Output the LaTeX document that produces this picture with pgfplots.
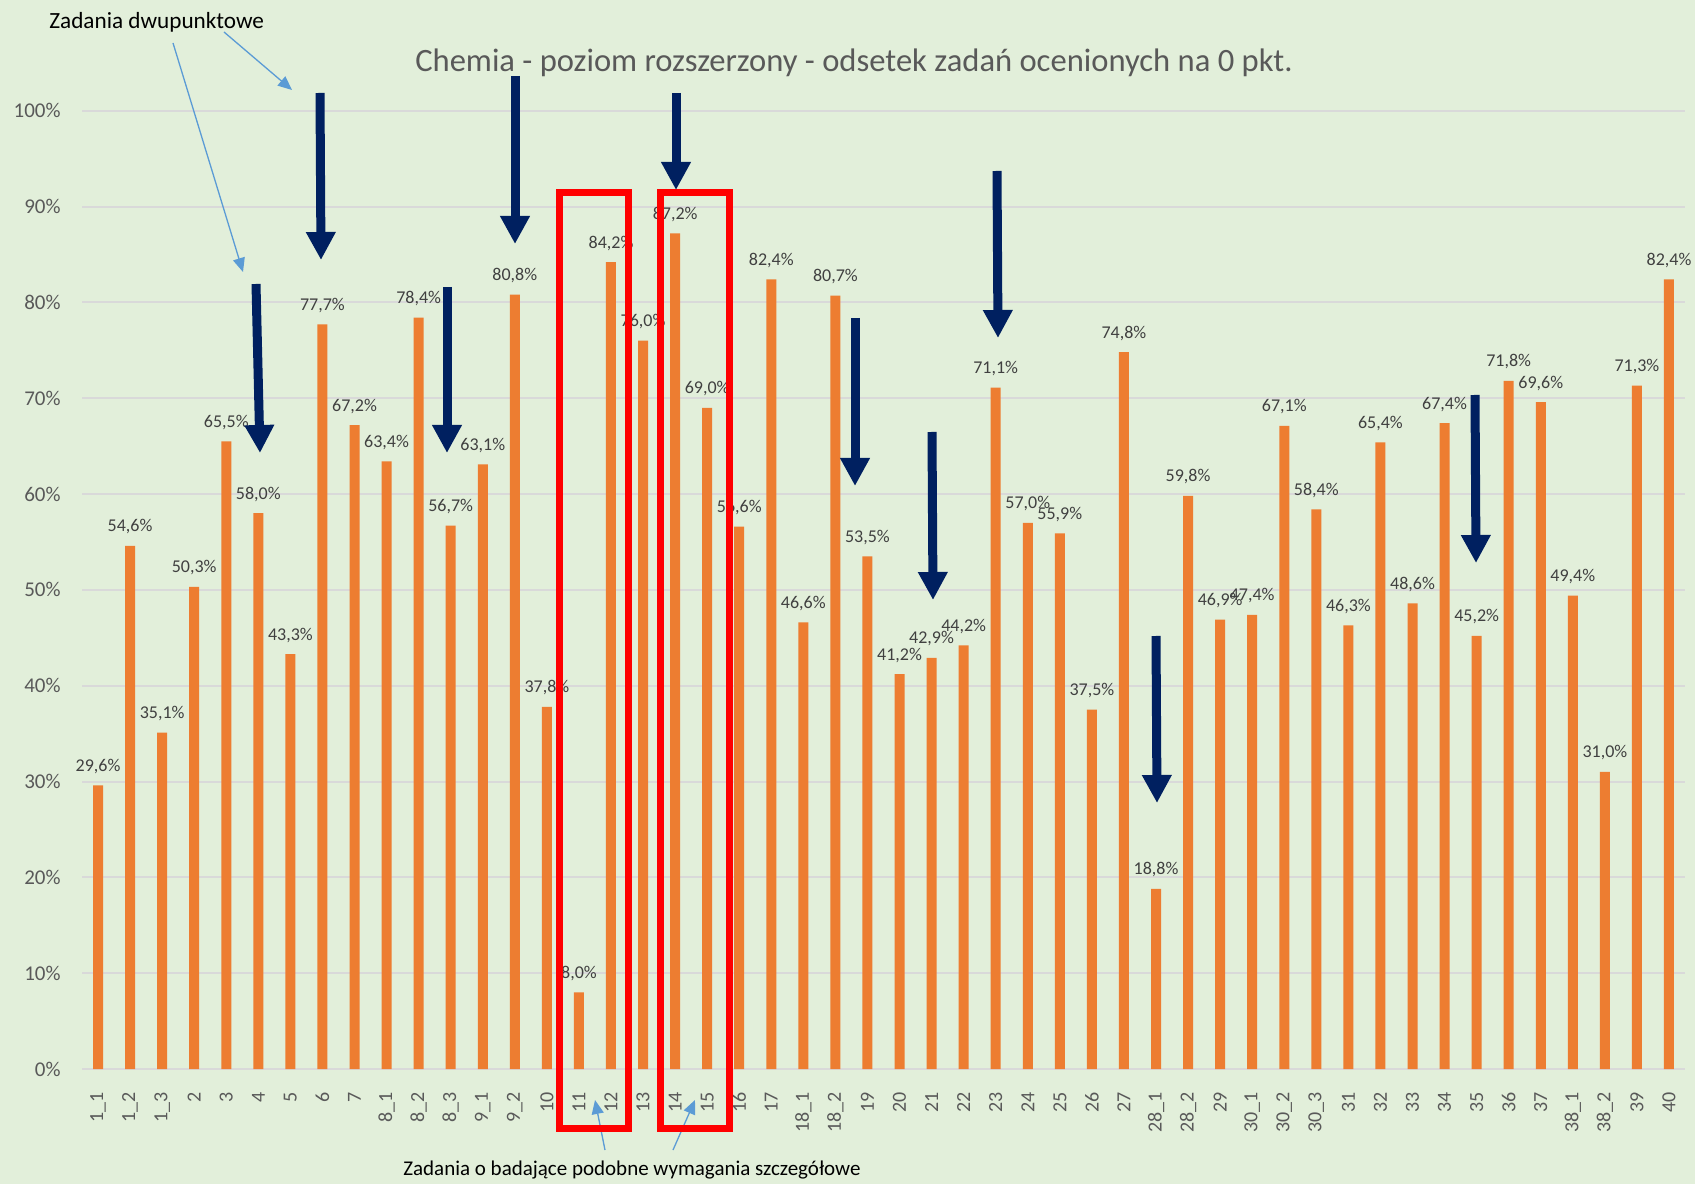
\documentclass[border=0pt]{standalone}
\usepackage{fontspec}
\setmainfont{Carlito}
\usepackage{pgfplots}
\pgfplotsset{compat=1.18}
\usetikzlibrary{arrows.meta}

\definecolor{bg}{HTML}{E2EFDA}
\definecolor{barorange}{HTML}{ED7D31}
\definecolor{gridgray}{HTML}{D9D9D9}
\definecolor{txtgray}{HTML}{595959}
\definecolor{lblgray}{HTML}{404040}
\definecolor{navy}{HTML}{002060}
\definecolor{lightblue}{HTML}{5B9BD5}

\begin{document}
\begin{tikzpicture}
% page = 1695 x 1184 px, 1 px = 0.5pt
\fill[bg] (0,0) rectangle (847.5pt,592pt);
\path[use as bounding box] (0,0) rectangle (847.5pt,592pt);

\begin{axis}[
    at={(41pt,57.5pt)}, anchor=south west,
    scale only axis, width=801.5pt, height=479.15pt,
    xmin=-0.5, xmax=49.5, ymin=0, ymax=100,
    axis line style={draw=none},
    major tick style={draw=none},
    ymajorgrids, grid style={gridgray, line width=1pt},
    ytick={0,10,...,100},
    yticklabel={\pgfmathprintnumber{\tick}\%},
    yticklabel style={font=\fontsize{10.5}{12}\selectfont, text=txtgray, inner sep=0pt},
    yticklabel shift=10.5pt,
    xtick={0,...,49},
    xticklabels={1\_1,1\_2,1\_3,2,3,4,5,6,7,8\_1,8\_2,8\_3,9\_1,9\_2,10,11,12,13,14,15,16,17,
        18\_1,18\_2,19,20,21,22,23,24,25,26,27,28\_1,28\_2,29,30\_1,30\_2,30\_3,31,32,33,34,35,
        36,37,38\_1,38\_2,39,40},
    xticklabel style={font=\fontsize{10}{12}\selectfont, text=txtgray, rotate=90, anchor=east, inner sep=0pt},
    xticklabel shift=7pt,
    /pgf/number format/assume math mode=true,
    ybar, bar width=5pt,
    nodes near coords={\pgfmathprintnumber[fixed,fixed zerofill,precision=1,use comma]{\pgfplotspointmeta}\%},
    every node near coord/.append style={font=\fontsize{9}{11}\selectfont, text=lblgray, anchor=base, inner sep=0pt, yshift=7pt},
    clip=false,
]
\addplot[fill=barorange, draw=none] coordinates {
    (0,29.6) (1,54.6) (2,35.1) (3,50.3) (4,65.5) (5,58.0) (6,43.3) (7,77.7) (8,67.2) (9,63.4)
    (10,78.4) (11,56.7) (12,63.1) (13,80.8) (14,37.8) (15,8.0) (16,84.2) (17,76.0) (18,87.2) (19,69.0)
    (20,56.6) (21,82.4) (22,46.6) (23,80.7) (24,53.5) (25,41.2) (26,42.9) (27,44.2) (28,71.1) (29,57.0)
    (30,55.9) (31,37.5) (32,74.8) (33,18.8) (34,59.8) (35,46.9) (36,47.4) (37,67.1) (38,58.4) (39,46.3)
    (40,65.4) (41,48.6) (42,67.4) (43,45.2) (44,71.8) (45,69.6) (46,49.4) (47,31.0) (48,71.3) (49,82.4)
};
\end{axis}

% annotations, in pixel units from the top left corner
\begin{scope}[x=0.5pt, y=-0.5pt, shift={(0,592pt)}]
\node[text=txtgray, font=\fontsize{16.3}{18}\selectfont] at (854,63) {Chemia - poziom rozszerzony - odsetek zadań ocenionych na 0 pkt.};

\node[anchor=west, font=\fontsize{11.6}{13}\selectfont, inner sep=0pt] at (49,22) {Zadania dwupunktowe};
\node[anchor=west, font=\fontsize{10.5}{12}\selectfont, inner sep=0pt] at (403,1170) {Zadania o badające podobne wymagania szczegółowe};

\begin{scope}[lightblue, line width=0.65pt, -{Triangle[width=6pt,length=7pt]}]
\draw (173,43) -- (243,272);
\draw (224,32) -- (292,90);
\draw (605,1150) -- (595,1100);
\draw (673,1150) -- (695,1100);
\end{scope}

\begin{scope}[red, line width=3.5pt]
\draw (559.5,192.5) rectangle (628.5,1128.5);
\draw (660.5,192.5) rectangle (729.5,1128.5);
\end{scope}

\begin{scope}[navy, line width=4.5pt, -{Triangle[width=14pt,length=14pt]}]
\draw (256,284) -- (260,453);
\draw (320,93) -- (321,260);
\draw (447,287) -- (447,453);
\draw (515,76) -- (515,244);
\draw (676,93) -- (676,190);
\draw (997,171) -- (998,338);
\draw (855,318) -- (855,486);
\draw (932,432) -- (933,600);
\draw (1156,636) -- (1157,803);
\draw (1475,395) -- (1476,563);
\end{scope}
\end{scope}
\end{tikzpicture}
\end{document}
